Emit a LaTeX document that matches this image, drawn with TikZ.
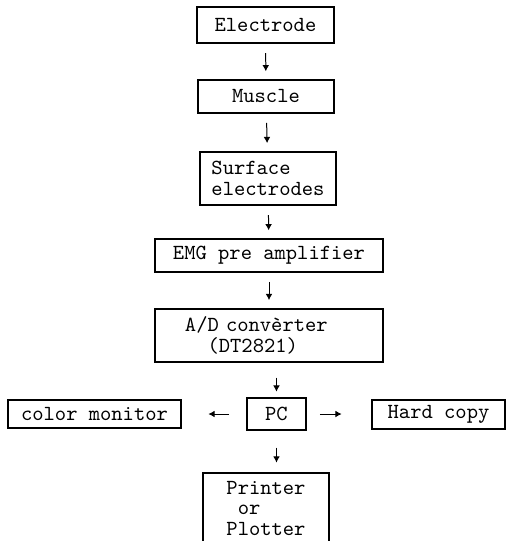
\documentclass[tikz,border=0pt]{standalone}
\usepackage{fontspec}
\usepackage{tikz}
\usetikzlibrary{arrows.meta,positioning}

\begin{document}
\begin{tikzpicture}[
  unit/.style={draw, line width=0.8pt, inner sep=2pt, align=center,
               font={\fontsize{10.8}{10.2}\selectfont\ttfamily}},
  link/.style={-{Latex[length=1.1mm,width=1.2mm]}, line width=0.5pt,
               shorten <=0.16cm, shorten >=0.14cm}
]
\useasboundingbox (0,0) rectangle (8.943,-9.543);
\node[unit, minimum width=2.42cm, minimum height=0.64cm] (elec) at (4.683,-0.441)
  {Electrode};
\node[unit, minimum width=2.40cm, minimum height=0.58cm] (musc) at (4.692,-1.702)
  {Muscle};
\node[unit, minimum width=2.40cm, minimum height=0.94cm, align=left] (surf) at (4.727,-3.149)
  {Surface\\electrodes};
\node[unit, minimum width=4.02cm, minimum height=0.58cm] (emg) at (4.745,-4.507)
  {EMG pre amplifier};
\node[unit, minimum height=0.94cm, inner xsep=0.529cm, text width=2.964cm, align=left] (adc) at (4.745,-5.918)
  {A/D convèrter\\\phantom{A/}(DT2821)};
\node[unit, minimum width=3.05cm, minimum height=0.49cm] (mon) at (1.667,-7.303)
  {color monitor};
\node[unit, minimum width=1.04cm, minimum height=0.56cm] (pc) at (4.877,-7.303)
  {PC};
\node[unit, minimum width=2.35cm, minimum height=0.51cm] (hard) at (7.735,-7.311)
  {Hard copy};
\node[unit, minimum width=2.22cm, minimum height=1.25cm, align=left] (prn) at (4.692,-8.969)
  {Printer\\\phantom{P}or\\Plotter};
\draw[link] (elec) -- (musc);
\draw[link] (musc) -- (surf);
\draw[link] (surf) -- (emg);
\draw[link] (emg) -- (adc);
\draw[link, shorten <=0.26cm, shorten >=0.1cm] (pc.north |- adc.south) -- (pc.north);
\draw[link, shorten <=0.3cm, shorten >=0.47cm] (pc.west) -- (pc.west -| mon.east);
\draw[link, shorten <=0.23cm, shorten >=0.52cm] (pc.east) -- (pc.east -| hard.west);
\draw[link, shorten <=0.3cm, shorten >=0.17cm] (pc.south) -- (pc.south |- prn.north);
\end{tikzpicture}
\end{document}
